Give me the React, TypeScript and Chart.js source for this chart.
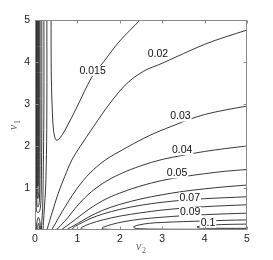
import React, { useEffect, useRef } from 'react';
import { Chart, registerables } from 'chart.js';

Chart.register(...registerables);

// axis ticks
const xTicks = [0, 1, 2, 3, 4, 5];
const yTicks = [1, 2, 3, 4, 5];

// contour labels (text, v2, v1)
const labelTexts = ['0.015', '0.02', '0.03', '0.04', '0.05', '0.07', '0.09', '0.1'];
const labelV2 = [1.36, 2.9, 3.43, 3.47, 3.35, 3.65, 3.66, 4.08];
const labelV1 = [3.79, 4.18, 2.7, 1.9, 1.35, 0.77, 0.43, 0.17];

// contour lines, [v2, v1] pairs
const c015 = [[0.38, 5], [0.38, 4.2], [0.39, 3.4], [0.41, 2.8], [0.44, 2.35], [0.5, 2.14], [0.58, 2.18], [0.71, 2.38], [1.0, 2.95], [1.34, 3.64], [1.63, 4.02], [2.0, 4.5], [2.48, 5]];
const c02 = [[5, 4.76], [4.5, 4.6], [4, 4.42], [3.5, 4.2], [3, 3.97], [2.56, 3.78], [2.17, 3.49], [1.77, 3.02], [1.38, 2.46], [1.06, 1.98], [0.87, 1.67], [0.7, 1.27], [0.55, 0.88], [0.43, 0.5], [0.34, 0.2], [0.28, 0]];
const c03 = [[5, 2.95], [4.5, 2.86], [4, 2.75], [3.6, 2.62], [3.3, 2.5], [2.9, 2.34], [2.56, 2.18], [2.1, 1.93], [1.65, 1.66], [1.3, 1.36], [1.0, 1.0], [0.75, 0.62], [0.55, 0.28], [0.45, 0.1], [0.39, 0]];
const c04 = [[5, 2.0], [4.5, 1.94], [4, 1.87], [3.5, 1.78], [3, 1.68], [2.5, 1.53], [2, 1.33], [1.6, 1.11], [1.25, 0.84], [0.95, 0.52], [0.78, 0.3], [0.6, 0.1], [0.49, 0]];
const c05 = [[5, 1.44], [4.5, 1.4], [4, 1.34], [3.5, 1.27], [3, 1.18], [2.5, 1.05], [2, 0.88], [1.6, 0.7], [1.25, 0.48], [0.95, 0.25], [0.75, 0.1], [0.61, 0]];
const c06 = [[5, 1.07], [4.5, 1.03], [4, 0.98], [3.5, 0.92], [3, 0.84], [2.5, 0.74], [2, 0.61], [1.6, 0.47], [1.25, 0.3], [1.0, 0.15], [0.82, 0.05], [0.74, 0]];
const c07 = [[5, 0.79], [4.5, 0.77], [4, 0.745], [3.5, 0.71], [3, 0.66], [2.5, 0.59], [2, 0.49], [1.6, 0.38], [1.3, 0.27], [1.1, 0.17], [0.95, 0.09], [0.88, 0.04], [0.92, 0.015], [1.1, 0.006], [2, 0.004], [5, 0.004]];
const c08 = [[5, 0.6], [4.5, 0.58], [4, 0.555], [3.5, 0.52], [3, 0.475], [2.5, 0.41], [2, 0.33], [1.6, 0.24], [1.3, 0.15], [1.12, 0.07], [1.08, 0.035], [1.15, 0.015], [1.5, 0.008], [5, 0.006]];
const c09 = [[5, 0.4], [4.5, 0.385], [4, 0.365], [3.5, 0.34], [3, 0.305], [2.5, 0.26], [2.1, 0.2], [1.8, 0.13], [1.62, 0.07], [1.58, 0.04], [1.66, 0.02], [2, 0.012], [3, 0.01], [5, 0.01]];
const c10 = [[5, 0.24], [4.5, 0.23], [4, 0.215], [3.5, 0.2], [3, 0.18], [2.7, 0.16], [2.45, 0.12], [2.33, 0.08], [2.34, 0.05], [2.45, 0.03], [3, 0.02], [4, 0.017], [5, 0.016]];
const c11 = [[5, 0.14], [4.6, 0.135], [4.2, 0.12], [3.95, 0.1], [3.82, 0.075], [3.85, 0.055], [4.0, 0.045], [4.5, 0.04], [5, 0.04]];

// left-edge branches
const left02 = [[0.28, 5], [0.28, 3], [0.27, 1.8], [0.25, 1.0], [0.22, 0.5], [0.2, 0.2], [0.19, 0]];
const left03 = [[0.21, 5], [0.21, 3], [0.2, 1.8], [0.19, 1.0], [0.18, 0.5], [0.16, 0.2], [0.15, 0]];
const left04 = [[0.16, 5], [0.16, 2.5], [0.15, 1.2], [0.14, 0.7], [0.11, 0.45], [0.06, 0.42], [0.03, 0.5], [0.022, 1.0], [0.02, 2.5], [0.02, 5]];
const left05 = [[0.12, 5], [0.12, 2.5], [0.115, 1.2], [0.1, 0.65], [0.07, 0.55], [0.045, 0.62], [0.035, 1.2], [0.035, 2.5], [0.035, 5]];
const left06 = [[0.1, 5], [0.1, 2.5], [0.095, 1.2], [0.085, 0.8], [0.065, 0.75], [0.055, 0.85], [0.05, 1.4], [0.05, 5]];
const left07 = [[0.08, 5], [0.08, 2.5], [0.078, 1.4], [0.07, 1.05], [0.066, 1.3], [0.065, 2.5], [0.065, 5]];
const arch1 = [[0.03, 0], [0.045, 0.2], [0.08, 0.3], [0.115, 0.2], [0.13, 0]];
const arch2 = [[0.06, 0], [0.07, 0.12], [0.085, 0.16], [0.1, 0.1], [0.105, 0]];

const curves = [c015, c02, c03, c04, c05, c06, c07, c08, c09, c10, c11, left02, left03, left04, left05, left06, left07, arch1, arch2];

const decor = {
  id: 'decor',
  afterDatasetsDraw(chart: any) {
    const { ctx, chartArea: a, scales } = chart;
    const xs = scales.x;
    const ys = scales.y;
    ctx.save();
    // contour labels
    ctx.font = '10.5px "Liberation Sans", Arial, sans-serif';
    ctx.textAlign = 'center';
    ctx.textBaseline = 'middle';
    labelTexts.forEach((t, i) => {
      const px = xs.getPixelForValue(labelV2[i]);
      const py = ys.getPixelForValue(labelV1[i]);
      const w = ctx.measureText(t).width;
      ctx.fillStyle = '#ffffff';
      ctx.fillRect(px - w / 2 - 1, py - 5, w + 2, 10);
      ctx.fillStyle = '#111111';
      ctx.fillText(t, px, py);
    });
    // frame
    ctx.strokeStyle = '#8a8a8a';
    ctx.lineWidth = 1;
    const L = Math.round(a.left) + 0.5;
    const R = Math.round(a.right) - 0.5;
    const T = Math.round(a.top) + 0.5;
    const B = Math.round(a.bottom) - 0.5;
    ctx.strokeRect(L, T, R - L, B - T);
    ctx.beginPath();
    xTicks.forEach((v) => {
      const px = Math.round(xs.getPixelForValue(v)) + 0.5;
      ctx.moveTo(px, B); ctx.lineTo(px, B - 3);
      ctx.moveTo(px, T); ctx.lineTo(px, T + 3);
    });
    yTicks.forEach((v) => {
      const py = Math.round(ys.getPixelForValue(v)) + 0.5;
      ctx.moveTo(L, py); ctx.lineTo(L + 3, py);
      ctx.moveTo(R, py); ctx.lineTo(R - 3, py);
    });
    ctx.stroke();
    // axis titles
    ctx.fillStyle = '#666666';
    ctx.textAlign = 'left';
    ctx.textBaseline = 'alphabetic';
    const cx = (a.left + a.right) / 2;
    ctx.font = 'italic 12px "Liberation Serif", "DejaVu Serif", serif';
    ctx.fillText('v', cx - 5, 250);
    ctx.font = '8px "Liberation Serif", "DejaVu Serif", serif';
    ctx.fillText('2', cx + 1, 253);
    const cy = (a.top + a.bottom) / 2;
    ctx.translate(17, cy + 5);
    ctx.rotate(-Math.PI / 2);
    ctx.font = 'italic 12px "Liberation Serif", "DejaVu Serif", serif';
    ctx.fillText('v', 0, 0);
    ctx.font = '8px "Liberation Serif", "DejaVu Serif", serif';
    ctx.fillText('1', 6, 3);
    ctx.restore();
  },
};

export default function App() {
  const ref = useRef<HTMLCanvasElement | null>(null);
  useEffect(() => {
    if (!ref.current) return;
    const chart = new Chart(ref.current, {
      type: 'scatter',
      data: {
        datasets: curves.map((c) => ({
          data: c.map((p) => ({ x: p[0], y: p[1] })),
          showLine: true,
          pointRadius: 0,
          borderColor: '#222222',
          borderWidth: 0.9,
          tension: 0.35,
          fill: false,
        })),
      },
      options: {
        animation: false,
        responsive: false,
        devicePixelRatio: 1,
        layout: { padding: { top: 20, right: 26, left: 0, bottom: 0 } },
        plugins: { legend: { display: false }, tooltip: { enabled: false } },
        scales: {
          x: {
            type: 'linear',
            min: 0,
            max: 5,
            afterFit: (s: any) => { s.height = 30; },
            afterBuildTicks: (s: any) => { s.ticks = xTicks.map((v) => ({ value: v })); },
            grid: { display: false, drawTicks: false },
            border: { display: false },
            ticks: { padding: 3, color: '#222', font: { size: 10.5, family: '"Liberation Sans", Arial, sans-serif' } },
          },
          y: {
            type: 'linear',
            min: 0,
            max: 5,
            afterFit: (s: any) => { s.width = 35; },
            afterBuildTicks: (s: any) => { s.ticks = yTicks.map((v) => ({ value: v })); },
            grid: { display: false, drawTicks: false },
            border: { display: false },
            ticks: { padding: 5, color: '#222', font: { size: 10.5, family: '"Liberation Sans", Arial, sans-serif' } },
          },
        },
      },
      plugins: [decor],
    });
    return () => chart.destroy();
  }, []);
  return (
    <div style={{ position: 'absolute', left: 0, top: 0, width: 273, height: 260, background: '#fff' }}>
      <canvas ref={ref} width={273} height={260} style={{ width: 273, height: 260, display: 'block' }} />
    </div>
  );
}
